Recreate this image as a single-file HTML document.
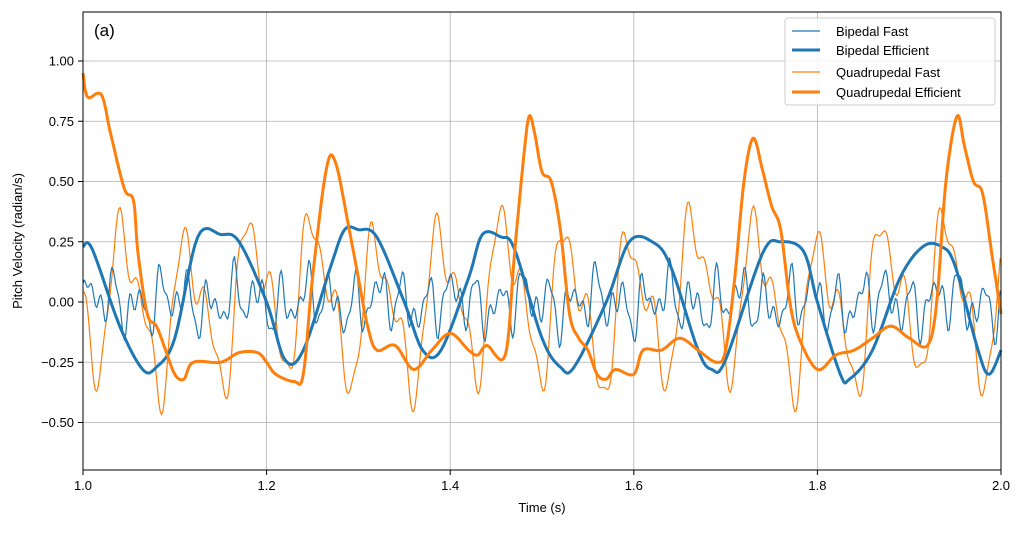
<!DOCTYPE html>
<html><head><meta charset="utf-8"><style>
body{margin:0;background:#fff;}
svg{display:block;font-family:"Liberation Sans","DejaVu Sans",sans-serif;}
</style></head><body>
<svg id="s" width="1024" height="534" viewBox="0 0 1024 534">
<rect width="1024" height="534" fill="#fff"/>
<g id="grid" stroke="#b0b0b0" stroke-width="0.8"></g>
<g id="ser" fill="none" stroke-linejoin="round"></g>
<rect x="83" y="12" width="918" height="458" fill="none" stroke="#000" stroke-width="1"/>
<g id="ticks" font-size="13" fill="#000"></g>
<text x="542" y="512" font-size="13" text-anchor="middle">Time (s)</text>
<text transform="translate(22,241) rotate(-90)" font-size="13" text-anchor="middle">Pitch Velocity (radian/s)</text>
<text x="94" y="36" font-size="17">(a)</text>
<g>
<rect x="785" y="18" width="210" height="87" rx="3" fill="#fff" fill-opacity="0.85" stroke="#ccc"/>
<line x1="792" y1="31" x2="820" y2="31" stroke="#1f77b4" stroke-width="1.2"/>
<text x="836" y="36" font-size="13">Bipedal Fast</text>
<line x1="792" y1="50" x2="820" y2="50" stroke="#1f77b4" stroke-width="3"/>
<text x="836" y="55" font-size="13">Bipedal Efficient</text>
<line x1="792" y1="72" x2="820" y2="72" stroke="#ff7f0e" stroke-width="1.2"/>
<text x="836" y="77" font-size="13">Quadrupedal Fast</text>
<line x1="792" y1="92" x2="820" y2="92" stroke="#ff7f0e" stroke-width="3"/>
<text x="836" y="97" font-size="13">Quadrupedal Efficient</text>
</g>
</svg>
<script>
var X=t=>83+(t-1)*918, Y=v=>302-v*241;
var g=document.getElementById('grid'),tk=document.getElementById('ticks'),se=document.getElementById('ser');
var ns='http://www.w3.org/2000/svg';
function el(p,tag,a,txt){var e=document.createElementNS(ns,tag);for(var k in a)e.setAttribute(k,a[k]);if(txt)e.textContent=txt;p.appendChild(e);return e;}
for(var i=0;i<=5;i++){var t=1+i*0.2,x=X(t);if(i>0&&i<5)el(g,'line',{x1:x,x2:x,y1:12,y2:470});
el(tk,'line',{x1:x,x2:x,y1:470,y2:475,stroke:'#000'});el(tk,'text',{x:x,y:490,'text-anchor':'middle'},t.toFixed(1));}
for(var v=-0.5;v<=1.001;v+=0.25){var y=Y(v);el(g,'line',{x1:83,x2:1001,y1:y,y2:y});
el(tk,'line',{x1:78,x2:83,y1:y,y2:y,stroke:'#000'});el(tk,'text',{x:74,y:y+4.5,'text-anchor':'end'},(v<0?'\u2212':'')+Math.abs(v).toFixed(2));}
function smooth(pts){var s='';for(var i=0;i<pts.length;i++){s+=(i?'L':'M')+X(pts[i][0]).toFixed(1)+','+Y(pts[i][1]).toFixed(1);}return s;}
function interp(k){var out=[];for(var i=0;i<k.length-1;i++){var p0=k[Math.max(i-1,0)],p1=k[i],p2=k[i+1],p3=k[Math.min(i+2,k.length-1)];for(var j=0;j<8;j++){var u=j/8,u2=u*u,u3=u2*u;var f=(a,b,c,d)=>0.5*(2*b+(-a+c)*u+(2*a-5*b+4*c-d)*u2+(-a+3*b-3*c+d)*u3);out.push([f(p0[0],p1[0],p2[0],p3[0]),f(p0[1],p1[1],p2[1],p3[1])]);}}out.push(k[k.length-1]);return out;}
var be=[[1,0.23],[1.01,0.22],[1.04,-0.1],[1.065,-0.28],[1.08,-0.27],[1.1,-0.15],[1.125,0.27],[1.15,0.28],[1.17,0.25],[1.2,0.0],[1.22,-0.24],[1.24,-0.2],[1.27,0.15],[1.285,0.3],[1.30,0.3],[1.32,0.27],[1.35,0.0],[1.37,-0.2],[1.39,-0.2],[1.42,0.1],[1.435,0.28],[1.455,0.27],[1.47,0.22],[1.5,-0.15],[1.52,-0.27],[1.535,-0.27],[1.57,0.0],[1.595,0.25],[1.62,0.25],[1.64,0.15],[1.67,-0.2],[1.685,-0.28],[1.70,-0.24],[1.74,0.2],[1.76,0.25],[1.785,0.21],[1.80,0.0],[1.825,-0.3],[1.835,-0.32],[1.86,-0.2],[1.89,0.1],[1.915,0.23],[1.935,0.23],[1.95,0.15],[1.975,-0.2],[1.987,-0.3],[2.0,-0.2]];
var qe=[[1.0,0.95],[1.005,0.85],[1.02,0.86],[1.03,0.7],[1.045,0.47],[1.055,0.42],[1.06,0.2],[1.07,-0.05],[1.08,-0.1],[1.09,-0.2],[1.1,-0.3],[1.11,-0.32],[1.12,-0.25],[1.15,-0.25],[1.17,-0.21],[1.19,-0.21],[1.2,-0.25],[1.21,-0.3],[1.23,-0.33],[1.24,-0.3],[1.25,0.1],[1.265,0.55],[1.275,0.58],[1.29,0.3],[1.3,0.1],[1.31,-0.1],[1.32,-0.2],[1.34,-0.18],[1.36,-0.28],[1.38,-0.2],[1.40,-0.13],[1.42,-0.2],[1.43,-0.22],[1.44,-0.18],[1.46,-0.22],[1.47,0.2],[1.48,0.6],[1.486,0.77],[1.492,0.7],[1.5,0.54],[1.51,0.5],[1.52,0.3],[1.53,-0.05],[1.54,-0.15],[1.55,-0.2],[1.56,-0.3],[1.57,-0.32],[1.58,-0.28],[1.6,-0.3],[1.61,-0.2],[1.63,-0.2],[1.65,-0.15],[1.67,-0.2],[1.69,-0.25],[1.70,-0.2],[1.71,0.1],[1.72,0.5],[1.73,0.68],[1.74,0.55],[1.75,0.4],[1.76,0.3],[1.77,0.0],[1.78,-0.15],[1.8,-0.28],[1.82,-0.22],[1.84,-0.2],[1.86,-0.15],[1.88,-0.1],[1.9,-0.15],[1.92,-0.18],[1.93,0.0],[1.94,0.5],[1.952,0.77],[1.96,0.65],[1.97,0.5],[1.98,0.45],[1.99,0.2],[2.0,-0.05]];
var bf=[],qf=[];
for(var t=1;t<=2.0001;t+=0.0015){
var b=0.08*Math.sin(2*Math.PI*t*38)+0.05*Math.sin(2*Math.PI*t*61+1)+0.04*Math.sin(2*Math.PI*t*97+2)+0.03*Math.sin(2*Math.PI*t*13);
bf.push([t,b]);
var q=0.28*Math.sin(2*Math.PI*t*14.5+0.5)+0.12*Math.sin(2*Math.PI*t*29+1.3)+0.06*Math.sin(2*Math.PI*t*55+0.2)+0.05*Math.sin(2*Math.PI*t*4.3);
qf.push([t,q]);}
el(se,'path',{d:smooth(qf),stroke:'#ff7f0e','stroke-width':1.2});
el(se,'path',{d:smooth(bf),stroke:'#1f77b4','stroke-width':1.2});
el(se,'path',{d:smooth(interp(be)),stroke:'#1f77b4','stroke-width':3});
el(se,'path',{d:smooth(interp(qe)),stroke:'#ff7f0e','stroke-width':3});
</script>
</body></html>
